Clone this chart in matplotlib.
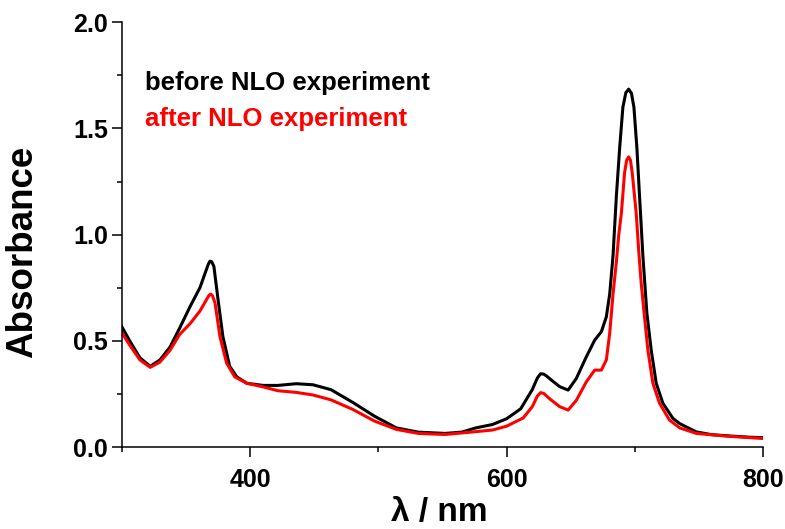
import numpy as np
import matplotlib
matplotlib.use("Agg")
import matplotlib.pyplot as plt
from matplotlib.ticker import MultipleLocator

# --- data ---
wl_before = [300, 306, 314, 322, 329.6, 337.4, 345, 353, 360.8, 365.5, 367.3, 368.6,
             370, 371.7, 375, 378.7, 384, 389.6, 397.4, 410, 421.6, 436, 449, 463, 480,
             497, 514, 531, 552, 565, 576, 589, 600, 611, 620, 624, 626.5, 629, 631,
             636, 641.4, 648, 654.4, 662.2, 668.7, 673.9, 677.8, 680.4, 683, 685.6,
             688.2, 690.7, 693, 695.2, 697.4, 699.3, 701.6, 703.7, 706.3, 709.4, 712.8,
             716.7, 721.9, 729.7, 735, 748, 760, 774, 790, 800]
abs_before = [0.565, 0.50, 0.42, 0.38, 0.41, 0.47, 0.56, 0.66, 0.75, 0.83, 0.86, 0.875,
              0.872, 0.85, 0.69, 0.52, 0.38, 0.33, 0.30, 0.29, 0.29, 0.298, 0.293, 0.27,
              0.21, 0.145, 0.09, 0.07, 0.064, 0.07, 0.09, 0.106, 0.133, 0.18, 0.27,
              0.325, 0.345, 0.343, 0.335, 0.31, 0.284, 0.268, 0.323, 0.425, 0.503,
              0.543, 0.613, 0.72, 0.90, 1.18, 1.41, 1.60, 1.668, 1.685, 1.665, 1.60,
              1.41, 1.18, 0.90, 0.63, 0.456, 0.30, 0.206, 0.135, 0.11, 0.071, 0.058,
              0.052, 0.046, 0.044]

wl_after = [300, 306, 314, 322, 329.6, 337.4, 345, 353, 360.8, 366.5, 368, 369.3, 370.6,
            372.5, 376.4, 381.6, 388, 397.4, 410, 421.6, 436, 449, 463, 480, 497, 514,
            531, 552, 572, 589, 600, 613, 620, 624, 626.5, 629, 634, 641.4, 648, 654.4,
            662.2, 668.7, 673.9, 677.8, 680.4, 683, 685.6, 687.5, 689.5, 692, 693.6,
            695.2, 696.6, 698, 701.1, 703.2, 705, 707.6, 710.2, 714.1, 719.3, 727, 735,
            748, 774, 800]
abs_after = [0.537, 0.48, 0.41, 0.375, 0.40, 0.455, 0.53, 0.58, 0.64, 0.70, 0.715, 0.72,
             0.712, 0.68, 0.52, 0.395, 0.33, 0.30, 0.283, 0.265, 0.257, 0.245, 0.222,
             0.177, 0.122, 0.083, 0.064, 0.059, 0.07, 0.08, 0.098, 0.137, 0.19, 0.24,
             0.256, 0.252, 0.225, 0.19, 0.174, 0.22, 0.307, 0.362, 0.362, 0.41, 0.535,
             0.72, 0.87, 1.00, 1.10, 1.29, 1.35, 1.366, 1.35, 1.29, 1.10, 0.91, 0.77,
             0.61, 0.456, 0.30, 0.206, 0.127, 0.09, 0.064, 0.05, 0.04]

labels = ["before NLO experiment", "after NLO experiment"]
colors = ["black", "#ff0000"]

fig = plt.figure(figsize=(7.85, 5.29), dpi=100)
ax = fig.add_axes([0.1554, 0.155, 0.8166, 0.803])

ax.plot(wl_before, abs_before, color=colors[0], lw=2.2, solid_joinstyle="round")
ax.plot(wl_after, abs_after, color=colors[1], lw=2.2, solid_joinstyle="round")

ax.set_xlim(300, 800)
ax.set_ylim(0, 2.0)

for side in ["top", "right"]:
    ax.spines[side].set_visible(False)
for side in ["left", "bottom"]:
    ax.spines[side].set_linewidth(1.1)

ax.xaxis.set_major_locator(MultipleLocator(200))
ax.xaxis.set_minor_locator(MultipleLocator(100))
ax.yaxis.set_major_locator(MultipleLocator(0.5))
ax.yaxis.set_minor_locator(MultipleLocator(0.25))
ax.tick_params(which="major", length=7, width=1.1, direction="out")
ax.tick_params(which="minor", length=3.5, width=1.1, direction="out")
ax.tick_params(axis="x", which="major", pad=8)
ax.tick_params(axis="y", which="major", pad=3)

tick_font = dict(family="Liberation Sans", weight="bold", size=18)
ax.set_yticks([0, 0.5, 1.0, 1.5, 2.0])
ax.set_yticklabels(["0.0", "0.5", "1.0", "1.5", "2.0"], fontdict=tick_font)
ax.set_xticks([400, 600, 800])
ax.set_xticklabels(["400", "600", "800"], fontdict=tick_font)

ax.set_ylabel("Absorbance", family="Liberation Sans", weight="bold", size=26.5)
ax.yaxis.set_label_coords(-0.128, 0.459)
ax.set_xlabel("λ / nm", family="Liberation Sans", weight="bold", size=24)
ax.xaxis.set_label_coords(0.495, -0.118)

ax.text(0.036, 0.84, labels[0], color=colors[0], transform=ax.transAxes,
        family="Liberation Sans", weight="bold", size=18.5, va="baseline")
ax.text(0.036, 0.755, labels[1], color=colors[1], transform=ax.transAxes,
        family="Liberation Sans", weight="bold", size=18.5, va="baseline")

fig.savefig("out.png", dpi=100)
